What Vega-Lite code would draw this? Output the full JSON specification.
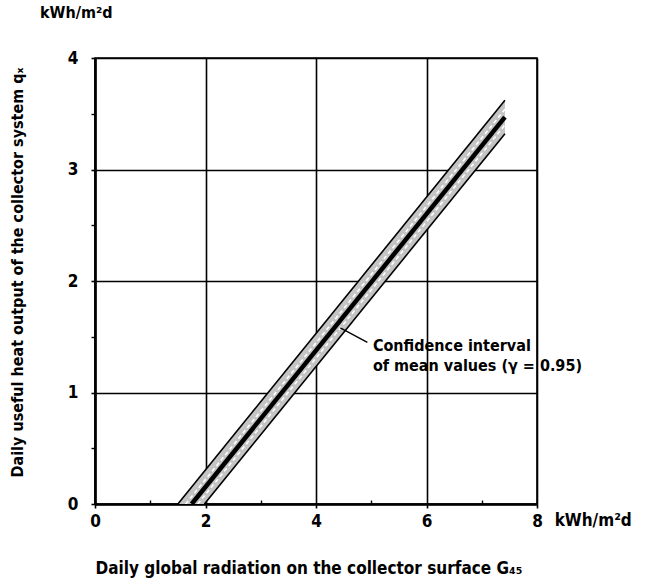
{
  "$schema": "https://vega.github.io/schema/vega-lite/v6.json",
  "autosize": "none",
  "width": 442,
  "height": 446,
  "padding": {"left": 95, "top": 58, "right": 109, "bottom": 80},
  "background": "white",
  "config": {
    "font": "DejaVu Sans Condensed",
    "view": {"stroke": "black", "strokeWidth": 1.6},
    "text": {"font": "DejaVu Sans Condensed", "fontWeight": "bold"}
  },
  "title": {
    "text": "kWh/m²d",
    "anchor": "start",
    "frame": "group",
    "dx": -55,
    "offset": 28,
    "fontSize": 16,
    "fontWeight": "bold",
    "font": "DejaVu Sans Condensed",
    "color": "black"
  },
  "datasets": {
    "band": [
      {"x": 1.5, "lo": 0, "hi": 0},
      {"x": 1.98, "lo": 0, "hi": 0.295},
      {"x": 7.42, "lo": 3.32, "hi": 3.62}
    ],
    "lines": [
      {"x": 1.5, "y": 0, "series": "upper"},
      {"x": 7.42, "y": 3.62, "series": "upper"},
      {"x": 1.98, "y": 0, "series": "lower"},
      {"x": 7.42, "y": 3.32, "series": "lower"},
      {"x": 1.64, "y": 0, "series": "inner upper"},
      {"x": 7.42, "y": 3.54, "series": "inner upper"},
      {"x": 1.86, "y": 0, "series": "inner lower"},
      {"x": 7.42, "y": 3.4, "series": "inner lower"},
      {"x": 1.75, "y": 0, "series": "mean"},
      {"x": 7.42, "y": 3.47, "series": "mean"}
    ]
  },
  "resolve": {"axis": {"x": "independent", "y": "independent"}},
  "layer": [
    {
      "data": {"name": "band"},
      "mark": {"type": "area", "color": "#c4c4c4", "clip": true},
      "encoding": {
        "x": {
          "field": "x", "type": "quantitative",
          "scale": {"domain": [0, 8], "nice": false, "zero": false},
          "axis": {
            "orient": "bottom",
            "values": [0, 2, 4, 6, 8],
            "grid": true, "gridColor": "black", "gridWidth": 1.6, "gridOpacity": 1,
            "domainColor": "black", "domainWidth": 2.6,
            "tickColor": "black", "tickWidth": 1.6, "tickSize": 4,
            "labelFont": "DejaVu Sans Condensed", "labelFontWeight": "bold",
            "labelFontSize": 17, "labelColor": "black", "labelPadding": 5,
            "labelFlush": false,
            "title": "Daily global radiation on the collector surface G₄₅",
            "titleFont": "DejaVu Sans Condensed", "titleFontWeight": "bold",
            "titleFontSize": 17, "titleColor": "black",
            "titleX": 0, "titleY": 64, "titleAlign": "left", "titleAnchor": "start",
            "titleBaseline": "middle"
          }
        },
        "y": {
          "field": "lo", "type": "quantitative",
          "scale": {"domain": [0, 4], "nice": false, "zero": false},
          "axis": {
            "orient": "left",
            "values": [0, 1, 2, 3, 4],
            "grid": true, "gridColor": "black", "gridWidth": 1.6, "gridOpacity": 1,
            "domainColor": "black", "domainWidth": 2.6,
            "tickColor": "black", "tickWidth": 1.6, "tickSize": 4,
            "labelFont": "DejaVu Sans Condensed", "labelFontWeight": "bold",
            "labelFontSize": 17, "labelColor": "black", "labelPadding": 13,
            "labelFlush": false,
            "title": "Daily useful heat output of the collector system qₓ",
            "titleFont": "DejaVu Sans Condensed", "titleFontWeight": "bold",
            "titleFontSize": 16, "titleColor": "black", "titlePadding": 42,
            "titleY": 214, "titleAlign": "center", "titleAnchor": "middle"
          }
        },
        "y2": {"field": "hi"}
      }
    },
    {
      "data": {"name": "lines"},
      "transform": [{"filter": "datum.series === 'upper' || datum.series === 'lower'"}],
      "mark": {"type": "line", "color": "black", "strokeWidth": 1.6, "clip": true},
      "encoding": {
        "x": {"field": "x", "type": "quantitative", "axis": null},
        "y": {"field": "y", "type": "quantitative", "axis": null},
        "detail": {"field": "series"}
      }
    },
    {
      "data": {"name": "lines"},
      "transform": [{"filter": "datum.series === 'inner upper' || datum.series === 'inner lower'"}],
      "mark": {"type": "line", "color": "white", "strokeWidth": 1.6, "strokeDash": [4, 3], "clip": true},
      "encoding": {
        "x": {"field": "x", "type": "quantitative", "axis": null},
        "y": {"field": "y", "type": "quantitative", "axis": null},
        "detail": {"field": "series"}
      }
    },
    {
      "data": {"name": "lines"},
      "transform": [{"filter": "datum.series === 'mean'"}],
      "mark": {"type": "line", "color": "black", "strokeWidth": 4.5, "clip": true},
      "encoding": {
        "x": {
          "field": "x", "type": "quantitative",
          "axis": {
            "orient": "bottom", "values": [1, 3, 5, 7],
            "labels": false, "domain": false, "grid": false, "title": null,
            "tickColor": "black", "tickWidth": 1.4, "tickSize": -4
          }
        },
        "y": {
          "field": "y", "type": "quantitative",
          "axis": {
            "orient": "left", "values": [0.5, 1.5, 2.5, 3.5],
            "labels": false, "domain": false, "grid": false, "title": null,
            "tickColor": "black", "tickWidth": 1.4, "tickSize": 4
          }
        }
      }
    },
    {
      "data": {"values": [{}]},
      "mark": {"type": "rule", "color": "black", "strokeWidth": 1.4},
      "encoding": {
        "x": {"datum": 4.44, "type": "quantitative", "axis": null},
        "y": {"datum": 1.58, "type": "quantitative", "axis": null},
        "x2": {"datum": 4.93},
        "y2": {"datum": 1.45}
      }
    },
    {
      "data": {"values": [{}]},
      "mark": {
        "type": "text",
        "text": ["Confidence interval", "of mean values (γ = 0.95)"],
        "align": "left", "baseline": "top", "lineHeight": 20,
        "fontSize": 16, "color": "black"
      },
      "encoding": {
        "x": {"datum": 5.03, "type": "quantitative", "axis": null},
        "y": {"datum": 1.49, "type": "quantitative", "axis": null}
      }
    },
    {
      "data": {"values": [{}]},
      "mark": {
        "type": "text", "text": "kWh/m²d",
        "align": "left", "baseline": "middle",
        "fontSize": 17, "color": "black"
      },
      "encoding": {
        "x": {"datum": 8.32, "type": "quantitative", "axis": null},
        "y": {"datum": -0.15, "type": "quantitative", "axis": null}
      }
    }
  ]
}
